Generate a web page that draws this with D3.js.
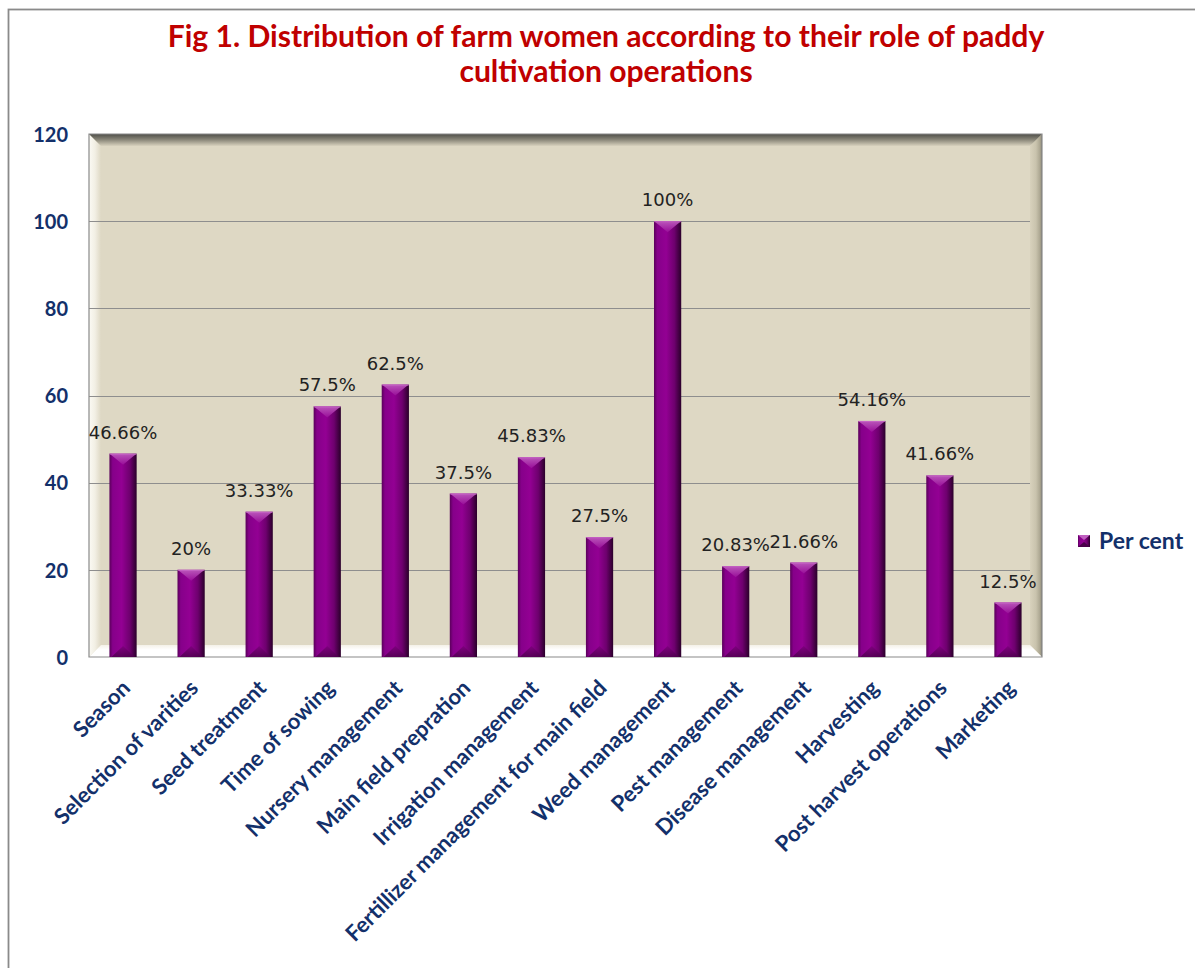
<!DOCTYPE html>
<html><head><meta charset="utf-8">
<script src="https://cdn.jsdelivr.net/npm/d3@7"></script>
<style>html,body{margin:0;padding:0;background:#fff;}svg{display:block;}</style>
</head><body>
<svg id="chart" width="1195" height="968"></svg>
<script>
// ---- data ----
const categories = ["Season","Selection of varities","Seed treatment","Time of sowing","Nursery management","Main field prepration","Irrigation management","Fertillizer management for main field","Weed management","Pest management","Disease management","Harvesting","Post harvest operations","Marketing"];
const values = [46.66,20,33.33,57.5,62.5,37.5,45.83,27.5,100,20.83,21.66,54.16,41.66,12.5];
const valueLabels = ["46.66%","20%","33.33%","57.5%","62.5%","37.5%","45.83%","27.5%","100%","20.83%","21.66%","54.16%","41.66%","12.5%"];
const yTicks = [0,20,40,60,80,100,120];
const seriesName = "Per cent";
const titleLines = ["Fig 1. Distribution of farm women according to their role of paddy","cultivation operations"];

const svg = d3.select("#chart");
const W = 1195, H = 968;
const L = 89, R = 1042, T = 134, B = 657, bev = 12;
const navy = "#13306a";

const x = d3.scaleBand().domain(categories).range([L, R]).paddingInner(0.6).paddingOuter(0.3);
const y = d3.scaleLinear().domain([0, 120]).range([B, T]);

const defs = svg.append("defs");
function lg(id, x1,y1,x2,y2, stops){
  const g = defs.append("linearGradient").attr("id", id).attr("x1",x1).attr("y1",y1).attr("x2",x2).attr("y2",y2);
  stops.forEach(s => g.append("stop").attr("offset", s[0]).attr("stop-color", s[1]));
}
lg("barG","0","0","1","0",[[0,"#5a005a"],[0.12,"#86008a"],[0.45,"#930093"],[0.75,"#6e006e"],[1,"#2a002a"]]);
lg("capG","0","0","0","1",[[0,"#c060c0"],[1,"#9a109a"]]);
lg("botG","0","0","0","1",[[0,"#7a007a"],[1,"#4a004a"]]);
lg("leftBev","0","0","1","0",[[0,"#fbfaf4"],[0.5,"#f2efe4"],[1,"#ded8c4"]]);
lg("topBev","0","0","0","1",[[0,"#4e4e48"],[0.5,"#8d8a7c"],[1,"#d8d2be"]]);
lg("rightBev","0","0","1","0",[[0,"#d8d2bd"],[0.5,"#c9c3ad"],[0.85,"#aaa590"],[1,"#7d7a6e"]]);
lg("botBev","0","0","0","1",[[0,"#f4f1e8"],[0.4,"#ffffff"],[1,"#ffffff"]]);

// outer frame
svg.append("rect").attr("x",8.5).attr("y",9.5).attr("width",W+20).attr("height",H+20)
  .attr("fill","#fff").attr("stroke","#8a8a8a").attr("stroke-width",1.8);

// title
const title = svg.append("g");
const t1 = title.append("text").attr("x",606).attr("y",47).attr("text-anchor","middle")
  .attr("font-family","Lato").attr("font-weight","bold").attr("font-size",28).attr("fill","#c00000").text(titleLines[0]);
const w1 = t1.node().getComputedTextLength();
const fs = 28 * 877 / w1;
t1.attr("font-size", fs);
title.append("text").attr("x",606).attr("y",82).attr("text-anchor","middle")
  .attr("font-family","Lato").attr("font-weight","bold").attr("font-size",fs).attr("fill","#c00000").text(titleLines[1]);

// back wall
svg.append("rect").attr("x",L).attr("y",T).attr("width",R-L).attr("height",B-T).attr("fill","#ded8c4");
svg.append("polygon").attr("points",`${L},${T} ${L+bev},${T+bev} ${L+bev},${B-bev} ${L},${B}`).attr("fill","url(#leftBev)");
svg.append("polygon").attr("points",`${R},${T} ${R},${B} ${R-bev},${B-bev} ${R-bev},${T+bev}`).attr("fill","url(#rightBev)");
svg.append("polygon").attr("points",`${L},${B} ${R},${B} ${R-bev},${B-bev} ${L+bev},${B-bev}`).attr("fill","url(#botBev)");
svg.append("polygon").attr("points",`${L},${T} ${R},${T} ${R-bev},${T+bev} ${L+bev},${T+bev}`).attr("fill","url(#topBev)");

// gridlines
svg.append("g").selectAll("line").data(yTicks.filter(d => d > 0 && d < 120)).join("line")
  .attr("x1",L).attr("x2",R-bev).attr("y1",d=>Math.round(y(d))+0.5).attr("y2",d=>Math.round(y(d))+0.5)
  .attr("stroke","#8e8e8e").attr("stroke-width",1.2);

// frame lines
svg.append("path").attr("d",`M${L},${T} L${L},${B} L${R},${B} L${R},${T} Z`).attr("fill","none").attr("stroke","#8a8a8a").attr("stroke-width",1.2);

// y axis labels
const yAxis = d3.axisLeft(y).tickValues(yTicks).tickSize(0).tickPadding(0);
const ya = svg.append("g").attr("transform",`translate(68,0)`).call(yAxis);
ya.select(".domain").remove();
ya.selectAll("text").attr("font-family","Lato").attr("font-weight","bold").attr("font-size",20).attr("fill",navy).attr("dy","0.36em");

// bars
const bars = svg.append("g");
categories.forEach((c,i) => {
  const x0 = x(c), bw = x.bandwidth(), y0 = y(values[i]), y1 = y(0);
  const g = bars.append("g");
  g.append("rect").attr("x",x0).attr("y",y0).attr("width",bw).attr("height",y1-y0).attr("fill","url(#barG)");
  const cap = Math.min(11, (y1-y0)/2);
  g.append("polygon").attr("points",`${x0},${y0} ${x0+bw},${y0} ${x0+bw-4},${y0+3} ${x0+bw/2},${y0+cap} ${x0+4},${y0+3}`).attr("fill","url(#capG)").attr("opacity",0.9);
  g.append("polygon").attr("points",`${x0+2},${y1} ${x0+bw-2},${y1} ${x0+bw/2},${y1-cap}`).attr("fill","url(#botG)").attr("opacity",0.8);
  g.append("rect").attr("x",x0).attr("y",y0).attr("width",bw).attr("height",1).attr("fill","#d070d0").attr("opacity",0.6);
});

// value labels
svg.append("g").selectAll("text").data(categories).join("text")
  .attr("x",d=>x(d)+x.bandwidth()/2).attr("y",(d,i)=>y(values[i])-15)
  .attr("text-anchor","middle").attr("font-family","DejaVu Sans").attr("font-size",18).attr("fill","#222")
  .text((d,i)=>valueLabels[i]);

// x axis labels
const xAxis = d3.axisBottom(x).tickSize(0).tickPadding(0);
const xa = svg.append("g").attr("transform",`translate(0,${B})`).call(xAxis);
xa.select(".domain").remove();
xa.selectAll("text").attr("font-family","Lato").attr("font-weight","bold").attr("font-size",22).attr("fill",navy)
  .attr("text-anchor","end").attr("y",0)
  .attr("transform","translate(3,27) rotate(-45)").attr("dy","0.35em");

// legend
const lgx = 1078, lgy = 535;
svg.append("rect").attr("x",lgx).attr("y",lgy).attr("width",12).attr("height",12).attr("fill","url(#barG)");
svg.append("polygon").attr("points",`${lgx},${lgy} ${lgx+12},${lgy} ${lgx+6},${lgy+5}`).attr("fill","#c060c0");
svg.append("polygon").attr("points",`${lgx},${lgy+12} ${lgx+12},${lgy+12} ${lgx+6},${lgy+7}`).attr("fill","#4a004a");
svg.append("text").attr("x",1099).attr("y",lgy+14).attr("font-family","Lato").attr("font-weight","bold").attr("font-size",23).attr("fill",navy).text(seriesName);
</script>
</body></html>
